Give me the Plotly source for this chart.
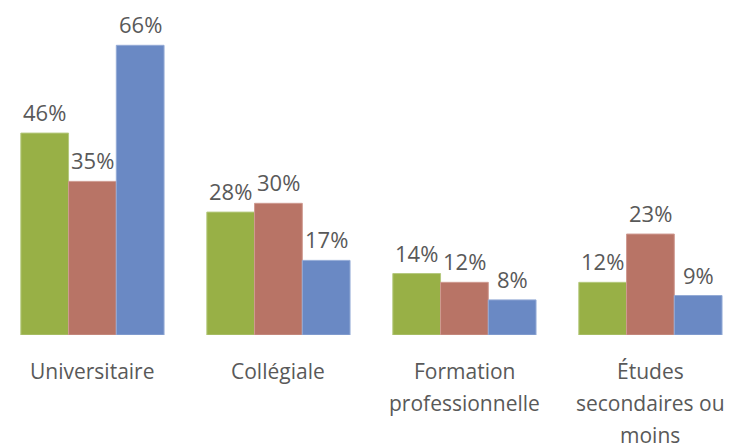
import plotly.graph_objects as go

categories = ["Universitaire", "Collégiale", "Formation\nprofessionnelle", "Études\nsecondaires ou\nmoins"]
series_names = ["Série 1", "Série 2", "Série 3"]
values_green = [46, 28, 14, 12]
values_red = [35, 30, 12, 23]
values_blue = [66, 17, 8, 9]
colors = ["#98B046", "#B87466", "#6A89C4"]
line_colors = ["#B5C97E", "#CF9A90", "#94ABD6"]

series = [values_green, values_red, values_blue]
x_idx = list(range(len(categories)))

fig = go.Figure()
for name, vals, c, lc in zip(series_names, series, colors, line_colors):
    fig.add_trace(go.Bar(
        x=x_idx, y=vals, name=name,
        marker=dict(color=c, line=dict(color=lc, width=1)),
        hoverinfo="skip",
    ))

annotations = []
bar_w = 0.77 / 3
for s, vals in enumerate(series):
    off = (s - 1) * bar_w
    for i, v in enumerate(vals):
        annotations.append(dict(
            x=i + off, y=v, xref="x", yref="y", text=f"{v}%",
            showarrow=False, yanchor="bottom", yshift=4,
            font=dict(family="Open Sans", size=22, color="#595959"),
        ))

for i, cat in enumerate(categories):
    for j, line in enumerate(cat.split("\n")):
        annotations.append(dict(
            x=i, y=0, xref="x", yref="y", text=line,
            showarrow=False, yanchor="middle", yshift=-(36 + 32 * j),
            font=dict(family="Open Sans", size=21, color="#595959"),
        ))

fig.update_layout(
    width=725, height=440,
    margin=dict(l=0, r=0, t=0, b=113),
    paper_bgcolor="white", plot_bgcolor="white",
    barmode="group", bargap=0.23, bargroupgap=0,
    showlegend=False,
    annotations=annotations,
    xaxis=dict(range=[-0.454, 3.444], showticklabels=False, showgrid=False,
               zeroline=False, showline=False, ticks=""),
    yaxis=dict(range=[0, 74.5], showticklabels=False, showgrid=False,
               zeroline=False, showline=False, ticks=""),
)

fig.write_html("out.html")
